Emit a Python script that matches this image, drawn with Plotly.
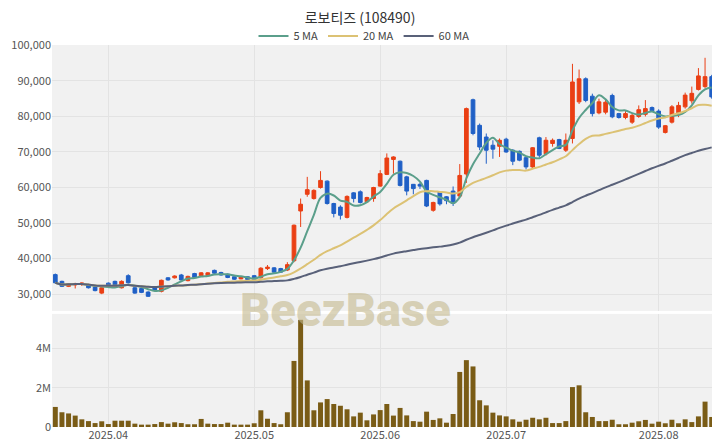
import pandas as pd
import plotly.graph_objects as go
from plotly.subplots import make_subplots

# ---- data ----
mar_days = [20, 21, 24, 25, 26, 27, 28, 31]
apr_days = [1, 2, 3, 4, 7, 8, 9, 10, 11, 14, 15, 16, 17, 18, 21, 22, 23, 24, 25, 28, 29, 30]
may_days = [2, 7, 8, 9, 12, 13, 14, 15, 16, 19, 20, 21, 22, 23, 26, 27, 28, 29, 30]
jun_days = [2, 4, 5, 9, 10, 11, 12, 13, 16, 17, 18, 19, 20, 23, 24, 25, 26, 27, 30]
jul_days = [1, 2, 3, 4, 7, 8, 9, 10, 11, 14, 15, 16, 17, 18, 21, 22, 23, 24, 25, 28, 29, 30, 31]
aug_days = [1, 4, 5, 6, 7, 8, 11, 12, 13]

dates = ([f"2025-03-{d:02d}" for d in mar_days] + [f"2025-04-{d:02d}" for d in apr_days]
         + [f"2025-05-{d:02d}" for d in may_days] + [f"2025-06-{d:02d}" for d in jun_days]
         + [f"2025-07-{d:02d}" for d in jul_days] + [f"2025-08-{d:02d}" for d in aug_days])

open_k = [35.5, 33.6, 32.2, 32.6, 32.9, 32.6, 32.0, 30.3, 33.1, 33.6,
          31.8, 35.2, 31.8, 31.6, 30.6, 31.8, 30.8, 34.6, 34.6, 35.4,
          33.8, 35.8, 35.0, 35.2, 36.7, 36.1, 35.6, 34.9, 34.3, 34.9,
          35.2, 34.6, 37.2, 37.4, 37.2, 36.8, 39.4, 53.4, 58.1, 56.9,
          60.0, 61.8, 55.5, 54.5, 51.6, 58.5, 58.8, 56.0, 56.9, 60.4,
          63.7, 67.9, 67.4, 63.0, 60.9, 60.9, 62.0, 53.6, 58.8, 57.4,
          59.0, 57.6, 63.8, 84.7, 77.5, 74.2, 71.9, 71.6, 73.6, 70.5,
          70.2, 68.4, 65.8, 74.0, 69.5, 72.4, 73.5, 70.5, 73.8, 84.1,
          90.6, 85.7, 81.0, 81.2, 85.9, 80.8, 79.7, 78.4, 80.0, 80.6,
          82.5, 81.5, 75.5, 78.4, 80.6, 82.7, 84.4, 87.6, 88.4, 91.2]
high_k = [35.8, 33.8, 33.1, 33.2, 33.3, 32.8, 32.1, 32.0, 33.3, 33.8,
          33.9, 35.6, 32.0, 31.8, 30.8, 32.0, 34.1, 34.8, 35.3, 35.7,
          35.2, 36.0, 36.2, 36.2, 36.9, 36.3, 35.8, 35.0, 35.1, 35.0,
          35.4, 37.6, 38.2, 37.6, 37.4, 39.0, 49.6, 56.9, 63.0, 59.5,
          64.6, 62.0, 55.7, 55.0, 57.8, 58.7, 59.2, 57.4, 60.2, 64.9,
          69.6, 68.8, 67.6, 63.3, 61.0, 61.4, 62.2, 56.0, 59.0, 57.6,
          60.3, 66.6, 82.5, 85.0, 78.0, 75.2, 73.3, 73.8, 74.0, 70.8,
          70.4, 68.8, 71.4, 74.3, 74.2, 73.8, 73.7, 75.2, 94.8, 93.2,
          91.0, 86.4, 85.0, 84.7, 86.4, 81.0, 81.5, 80.8, 83.1, 84.6,
          82.8, 82.0, 77.6, 83.2, 84.1, 86.7, 88.4, 93.6, 96.5, 91.7]
low_k = [33.0, 32.0, 32.0, 31.6, 32.3, 31.6, 30.8, 30.0, 32.0, 32.4,
         31.6, 33.0, 30.1, 30.3, 29.2, 31.0, 30.5, 33.8, 34.4, 33.9,
         33.6, 34.5, 34.9, 35.0, 35.7, 35.2, 34.5, 34.0, 34.2, 34.0,
         34.0, 34.4, 36.8, 36.0, 36.0, 36.5, 39.0, 48.9, 57.4, 56.6,
         59.7, 55.2, 51.6, 51.0, 51.3, 55.8, 55.5, 55.8, 56.0, 60.2,
         63.5, 63.9, 60.3, 57.8, 58.1, 59.6, 54.5, 53.2, 54.9, 55.3,
         54.8, 57.2, 61.3, 74.7, 70.5, 66.7, 68.1, 68.6, 69.8, 66.3,
         67.4, 65.1, 65.3, 68.5, 69.0, 71.5, 70.8, 70.0, 72.4, 83.5,
         84.0, 80.0, 80.6, 80.6, 79.5, 79.4, 79.2, 77.9, 79.6, 80.0,
         81.3, 76.5, 75.2, 78.0, 79.8, 82.2, 83.6, 87.3, 87.9, 85.0]
close_k = [33.2, 32.2, 33.0, 32.9, 33.1, 31.8, 31.0, 31.8, 32.2, 32.6,
           33.6, 33.2, 30.3, 30.5, 29.4, 31.2, 33.9, 34.0, 35.1, 34.0,
           35.0, 34.7, 36.0, 36.0, 35.9, 35.4, 34.7, 34.2, 34.9, 34.1,
           34.1, 37.3, 37.6, 36.2, 36.2, 38.3, 49.4, 55.3, 59.4, 59.2,
           62.0, 55.5, 52.7, 52.2, 57.5, 56.9, 55.8, 57.2, 60.0, 63.9,
           68.3, 68.6, 60.6, 59.0, 59.7, 60.4, 54.8, 55.8, 55.4, 56.3,
           55.6, 63.4, 82.2, 75.2, 71.4, 70.5, 70.8, 73.3, 70.0, 67.4,
           67.7, 65.8, 71.2, 69.1, 73.3, 73.3, 71.0, 73.3, 89.7, 90.6,
           84.5, 80.8, 84.1, 84.0, 79.9, 79.7, 80.8, 80.3, 81.9, 82.2,
           81.6, 77.0, 77.4, 82.7, 83.1, 86.0, 86.5, 91.4, 91.2, 85.5]
volume_m = [1.02, 0.75, 0.69, 0.58, 0.39, 0.30, 0.20, 0.29, 0.15, 0.32,
            0.32, 0.32, 0.17, 0.12, 0.12, 0.15, 0.25, 0.17, 0.24, 0.20,
            0.14, 0.14, 0.41, 0.17, 0.15, 0.15, 0.22, 0.12, 0.12, 0.12,
            0.19, 0.85, 0.42, 0.20, 0.14, 0.75, 3.36, 5.45, 2.37, 0.85,
            1.25, 1.42, 1.17, 1.08, 0.90, 0.54, 0.73, 0.34, 0.64, 0.86,
            1.17, 0.58, 0.97, 0.59, 0.30, 0.27, 0.78, 0.36, 0.44, 0.22,
            0.66, 2.80, 3.40, 3.08, 1.36, 1.10, 0.73, 0.59, 0.54, 0.39,
            0.27, 0.37, 0.47, 0.39, 0.47, 0.20, 0.20, 0.30, 2.03, 2.12,
            0.75, 0.51, 0.30, 0.30, 0.37, 0.14, 0.14, 0.22, 0.29, 0.36,
            0.17, 0.27, 0.19, 0.37, 0.19, 0.39, 0.25, 0.54, 1.29, 0.51]

month_ticks = ["2025-04-01", "2025-05-02", "2025-06-02", "2025-07-01", "2025-08-01"]
month_labels = ["2025.04", "2025.05", "2025.06", "2025.07", "2025.08"]
price_ticks = [30000, 40000, 50000, 60000, 70000, 80000, 90000, 100000]
vol_ticks = [0, 2_000_000, 4_000_000]
vol_labels = ["0", "2M", "4M"]

# ---- derived ----
df = pd.DataFrame({
    "date": dates,
    "open": [v * 1000 for v in open_k],
    "high": [v * 1000 for v in high_k],
    "low": [v * 1000 for v in low_k],
    "close": [v * 1000 for v in close_k],
    "volume": [v * 1_000_000 for v in volume_m],
})
for n in (5, 20, 60):
    df[f"ma{n}"] = df["close"].rolling(n, min_periods=1).mean()

RED = "#ea3f14"
BLUE = "#2060c6"
FONT = "Noto Sans CJK KR"

fig = make_subplots(rows=2, cols=1, shared_xaxes=True)

fig.add_trace(go.Candlestick(
    x=df["date"], open=df["open"], high=df["high"], low=df["low"], close=df["close"],
    increasing=dict(line=dict(color=RED, width=1), fillcolor=RED),
    decreasing=dict(line=dict(color=BLUE, width=1), fillcolor=BLUE),
    whiskerwidth=0, showlegend=False, name="price"), row=1, col=1)

ma_styles = [("ma5", "5 MA", "#5b9f8b"), ("ma20", "20 MA", "#dcc274"), ("ma60", "60 MA", "#596179")]
for col, name, color in ma_styles:
    fig.add_trace(go.Scatter(x=df["date"], y=df[col], mode="lines", name=name,
                             line=dict(color=color, width=2, shape="spline")), row=1, col=1)

fig.add_trace(go.Bar(x=df["date"], y=df["volume"], marker=dict(color="#7a5c16", line=dict(width=0)),
                     showlegend=False, name="volume"), row=2, col=1)

axis_common = dict(showline=False, zeroline=False, gridcolor="#e3e3e3", gridwidth=1,
                   tickfont=dict(family=FONT, size=11, color="#555555"))

# page is drawn with an 8px body offset; margins compensate for it
fig.update_layout(
    width=720, height=448,
    margin=dict(l=44, r=13, t=37, b=29, autoexpand=False),
    paper_bgcolor="white", plot_bgcolor="#f1f1f1",
    font=dict(family=FONT, color="#333333"),
    title=dict(text="로보티즈 (108490)", x=352 / 720, xanchor="center", xref="container",
               y=1 - 10.5 / 448, yanchor="middle", yref="container",
               font=dict(family=FONT, size=14, color="#333333")),
    legend=dict(orientation="h", xref="container", x=356 / 720, xanchor="center",
                yref="container", y=1 - 28 / 448, yanchor="middle",
                font=dict(family=FONT, size=11, color="#444444"), bgcolor="rgba(0,0,0,0)"),
    bargap=0.25,
    boxgap=0.2,
    showlegend=True,
)

fig.update_xaxes(type="category", categoryorder="array", categoryarray=dates,
                 range=[-0.5, len(dates) - 0.5], tickvals=month_ticks, ticktext=month_labels,
                 rangeslider=dict(visible=False), ticks="", **axis_common)
fig.update_xaxes(showticklabels=False, row=1, col=1)
fig.update_layout(
    yaxis=dict(domain=[0.304, 1.0], range=[25300, 100100], tickvals=price_ticks, tickformat=",",
               ticks="", **axis_common),
    yaxis2=dict(domain=[0.0, 0.296], range=[0, 5_750_000], tickvals=vol_ticks, ticktext=vol_labels,
                ticks="", **axis_common),
    xaxis=dict(domain=[0, 1]), xaxis2=dict(domain=[0, 1]),
)

fig.add_annotation(text="BeezBase", xref="paper", yref="paper", x=0.442, y=(427 - 309) / 382,
                   xanchor="center", yanchor="middle", showarrow=False,
                   font=dict(family="Roboto", size=47, weight=900, color="rgba(196,184,140,0.6)"))

fig.write_html("out.html")
